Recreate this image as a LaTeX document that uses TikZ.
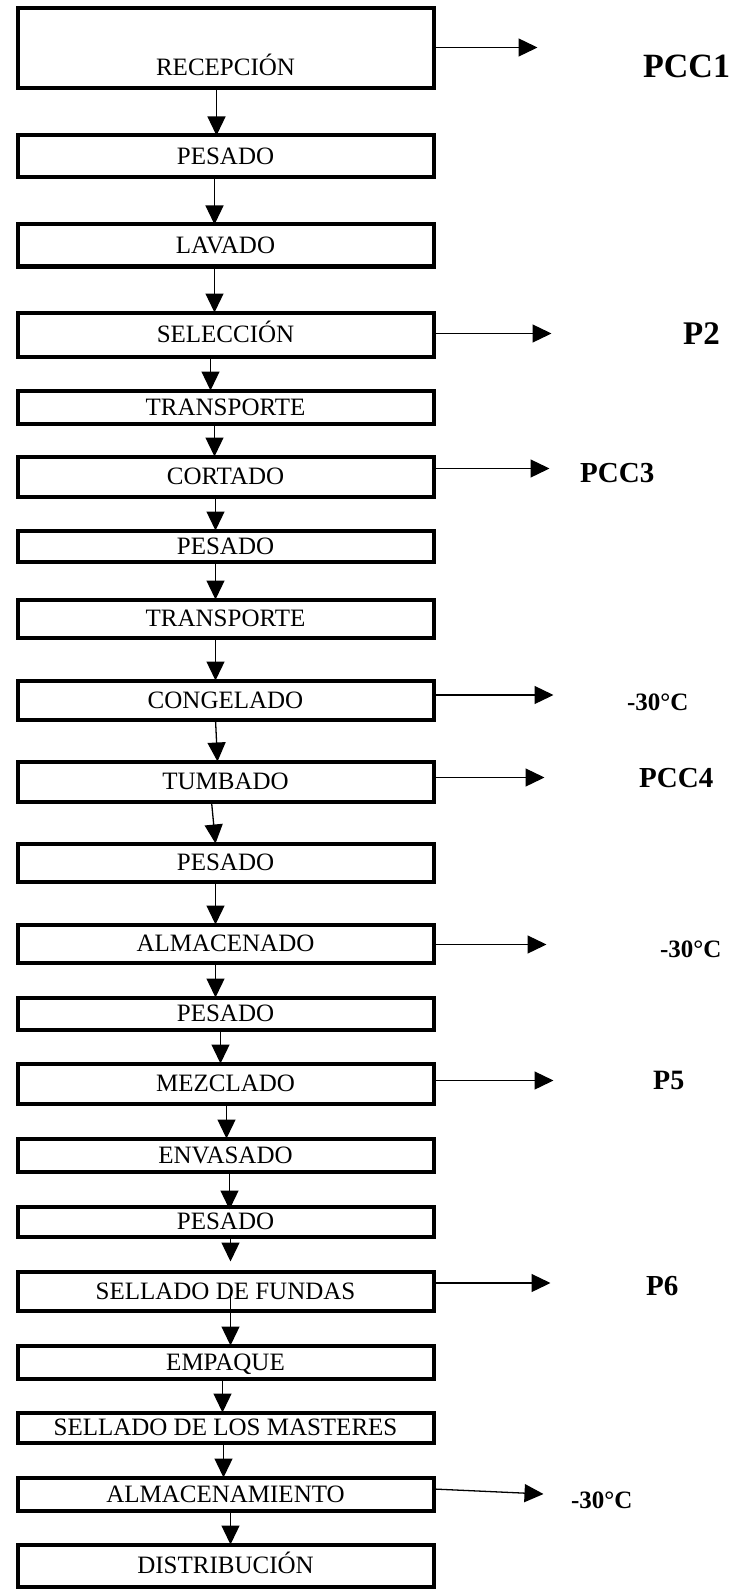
\documentclass[tikz,border=0pt]{standalone}
\usepackage{fontspec}
\setmainfont{Liberation Serif}
\usetikzlibrary{positioning,arrows.meta}

\begin{document}
\begin{tikzpicture}[->,>={Triangle[length=19pt,width=18pt]},line width=1.3pt,
                    proc/.style={draw,line width=4pt,minimum width=416pt,inner sep=0pt,outer sep=0pt,
                                 text height=16.5pt,text depth=0pt,font=\fontsize{25pt}{30pt}\selectfont},
                    pcctag/.style={inner sep=0pt,text depth=0pt,font=\bfseries\fontsize{29pt}{34pt}\selectfont},
                    temptag/.style={pcctag,font=\bfseries\fontsize{25pt}{30pt}\selectfont}]

  \useasboundingbox (0,0) rectangle (736pt,-1589pt);

  % process steps
  \node[proc,minimum height=80pt,text height=55pt] (recep) at (225.5pt,-48.5pt) {RECEPCIÓN};
  \node[proc,minimum height=42pt] (pes1) [below=47pt of recep] {PESADO};
  \node[proc,minimum height=42pt] (lav)  [below=47pt of pes1]  {LAVADO};
  \node[proc,minimum height=44pt] (sel)  [below=46pt of lav]   {SELECCIÓN};
  \node[proc,minimum height=33pt] (tra1) [below=34pt of sel]   {TRANSPORTE};
  \node[proc,minimum height=40pt] (cor)  [below=33pt of tra1]  {CORTADO};
  \node[proc,minimum height=31pt] (pes2) [below=34pt of cor]   {PESADO};
  \node[proc,minimum height=38pt] (tra2) [below=38pt of pes2]  {TRANSPORTE};
  \node[proc,minimum height=39pt] (cong) [below=43pt of tra2]  {CONGELADO};
  \node[proc,minimum height=40pt] (tumb) [below=42pt of cong]  {TUMBADO};
  \node[proc,minimum height=38pt] (pes3) [below=42pt of tumb]  {PESADO};
  \node[proc,minimum height=38pt] (alm)  [below=43pt of pes3]  {ALMACENADO};
  \node[proc,minimum height=32pt] (pes4) [below=35pt of alm]   {PESADO};
  \node[proc,minimum height=40pt] (mez)  [below=34pt of pes4]  {MEZCLADO};
  \node[proc,minimum height=33pt] (env)  [below=35pt of mez]   {ENVASADO};
  \node[proc,minimum height=30pt] (pes5) [below=35pt of env]   {PESADO};
  \node[proc,minimum height=39pt] (fund) [below=35pt of pes5]  {SELLADO DE FUNDAS};
  \node[proc,minimum height=33pt] (emp)  [below=35pt of fund]  {EMPAQUE};
  \node[proc,minimum height=30pt] (mast) [below=34pt of emp]   {SELLADO DE LOS MASTERES};
  \node[proc,minimum height=33pt] (almt) [below=35pt of mast]  {ALMACENAMIENTO};
  \node[proc,minimum height=42pt] (dist) [below=34pt of almt]  {DISTRIBUCIÓN};

  % flow
  \foreach \a/\b/\p/\q/\s/\e in {recep/pes1/-9/-9/0/0, pes1/lav/-11/-11/0/0, lav/sel/-11/-11/0/0,
      sel/tra1/-15/-15/0/0, tra1/cor/-11/-11/0/0, cor/pes2/-10/-10/0/0, pes2/tra2/-10/-10/0/0,
      tra2/cong/-10/-10/0/0, cong/tumb/-10/-8/0/0, tumb/pes3/-14/-10/0/0, pes3/alm/-10/-10/0/0,
      alm/pes4/-10/-10/0/0, pes4/mez/-5/-5/0/0, mez/env/1/1/0/0, env/pes5/4/4/0/-3,
      pes5/fund/5/5/0/10, fund/emp/5/5/-14/0, emp/mast/-3/-3/0/0, mast/almt/-2/-2/0/0,
      almt/dist/5/5/0/0}
    \draw[shorten <=\s pt,shorten >=\e pt] ([xshift=\p pt]\a.south) -- ([xshift=\q pt]\b.north);

  % side arrows
  \coordinate[right=104pt of recep.east, yshift=1pt] (t1);
  \coordinate[right=118pt of sel.east, yshift=1pt] (t2);
  \coordinate[right=116pt of cor.east, yshift=8pt] (t3);
  \coordinate[right=120pt of cong.east, yshift=5pt] (t4);
  \coordinate[right=111pt of tumb.east, yshift=4pt] (t5);
  \coordinate[right=113pt of alm.east, yshift=-1pt] (t6);
  \coordinate[right=120pt of mez.east, yshift=3pt] (t7);
  \coordinate[right=117pt of fund.east, yshift=8pt] (t8);
  \coordinate[right=110pt of almt.east] (t9);

  \draw ([yshift=1pt]recep.east) -- (t1);
  \draw ([yshift=1pt]sel.east) -- (t2);
  \draw ([yshift=8pt]cor.east) -- (t3);
  \draw ([yshift=5pt]cong.east) -- (t4);
  \draw ([yshift=4pt]tumb.east) -- (t5);
  \draw ([yshift=-1pt]alm.east) -- (t6);
  \draw ([yshift=3pt]mez.east) -- (t7);
  \draw ([yshift=8pt]fund.east) -- (t8);
  \draw ([yshift=5pt]almt.east) -- (t9);

  \node[pcctag,font=\bfseries\fontsize{34pt}{40pt}\selectfont] (pcc1) [right=105pt of t1, yshift=-19pt] {PCC1};
  \node[pcctag,font=\bfseries\fontsize{33pt}{40pt}\selectfont] (p2) [right=131pt of t2] {P2};
  \node[pcctag] (pcc3) [right=30pt of t3, yshift=-4pt] {PCC3};
  \node[temptag] (c1) [right=73pt of t4, yshift=-7pt] {-30°C};
  \node[pcctag] (pcc4) [right=94pt of t5] {PCC4};
  \node[temptag] (c2) [right=113pt of t6, yshift=-5pt] {-30°C};
  \node[pcctag,font=\bfseries\fontsize{28pt}{34pt}\selectfont] (p5) [right=99pt of t7] {P5};
  \node[pcctag] (p6) [right=95pt of t8, yshift=-3pt] {P6};
  \node[temptag] (c3) [right=27pt of t9, yshift=-6pt] {-30°C};
\end{tikzpicture}
\end{document}
